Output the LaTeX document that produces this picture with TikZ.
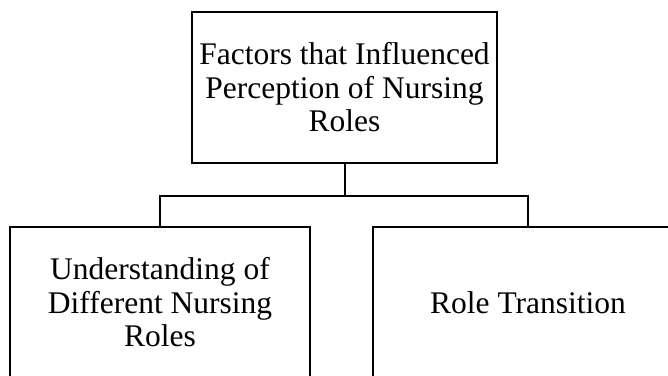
\documentclass[tikz,border=0pt]{standalone}
\usepackage{fontspec}
\setmainfont{Liberation Serif}
\usepackage{tikz}
\usetikzlibrary{positioning}

\tikzset{
  factorbox/.style={draw, rectangle, line width=2pt, align=center, inner sep=0pt,
    minimum height=151pt, font=\fontsize{31.5}{33.5}\selectfont},
  branch/.style={line width=2pt}
}

\begin{document}
\begin{tikzpicture}[x=1pt, y=-1pt]
                \useasboundingbox (0,0) rectangle (668,375);
                \node [factorbox, minimum width=305pt] (factors) at (344.5,87.5) {Factors that Influenced\\Perception of Nursing\\Roles};
                \node [factorbox, minimum width=300pt] (understanding) at (160,302.5) {Understanding of\\Different Nursing\\Roles};
                \node [factorbox, minimum width=310pt] (transition) at (528,302.5) {Role Transition};
                % tree connectors
                \draw [branch] (factors.south) -- ++(0,31.5) coordinate (bar);
                \draw [branch] (bar) -| (understanding.north);
                \draw [branch] (bar) -| (transition.north);
            \end{tikzpicture}
\end{document}
